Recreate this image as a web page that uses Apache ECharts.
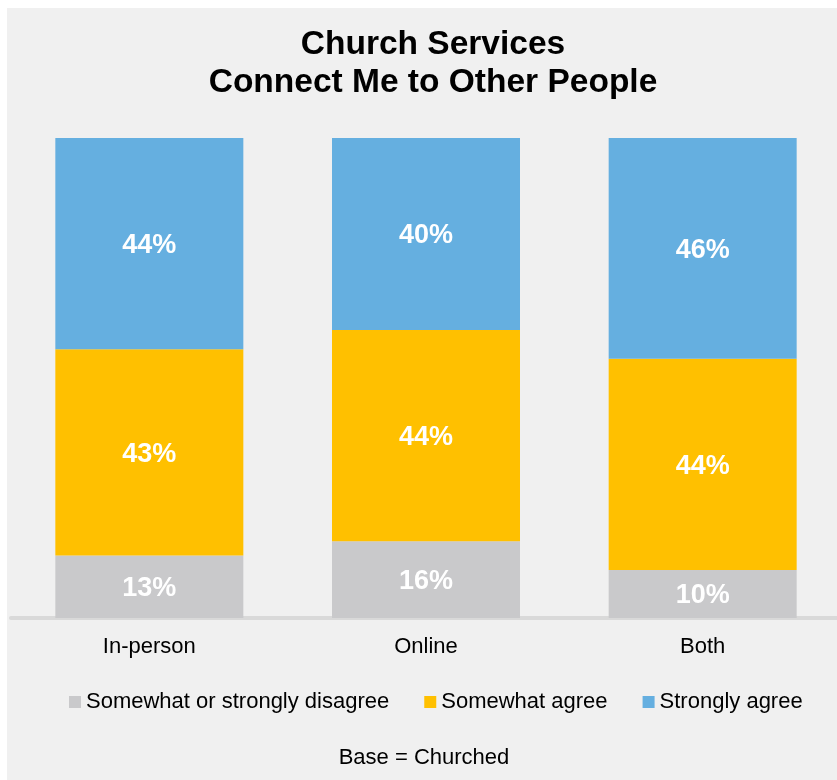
<!DOCTYPE html>
<html>
<head>
<meta charset="utf-8">
<script src="https://cdn.jsdelivr.net/npm/echarts@6/dist/echarts.min.js"></script>
<style>
  html, body { margin: 0; padding: 0; width: 837px; height: 780px; overflow: hidden; background: #ffffff; }
  #chart { position: absolute; left: 7px; top: 8px; width: 834px; height: 772px; background: #f0f0f0; }
</style>
</head>
<body>
<div id="chart"></div>
<script>
  // Attendance modes along the x axis
  const categories = ['In-person', 'Online', 'Both'];

  // Share of respondents (%) per response, bottom to top of each stack
  const disagree = [13, 16, 10];
  const somewhatAgree = [43, 44, 44];
  const stronglyAgree = [44, 40, 46];

  const seriesNames = ['Somewhat or strongly disagree', 'Somewhat agree', 'Strongly agree'];
  const seriesColors = ['#c9c9cb', '#ffc000', '#65afe0'];
  const seriesData = [disagree, somewhatAgree, stronglyAgree];

  const FONT = 'Liberation Sans, Arial, Helvetica, sans-serif';

  const chart = echarts.init(document.getElementById('chart'), null, { renderer: 'canvas' });

  chart.setOption({
    backgroundColor: '#f0f0f0',
    animation: false,
    title: {
      text: 'Church Services\nConnect Me to Other People',
      left: 421,
      top: 13,
      textAlign: 'center',
      textStyle: {
        fontFamily: FONT,
        fontSize: 33.5,
        fontWeight: 'bold',
        color: '#000000',
        lineHeight: 38
      }
    },
    legend: {
      left: 57,
      top: 678,
      itemWidth: 12,
      itemHeight: 12,
      itemGap: 35,
      icon: 'rect',
      data: seriesNames,
      textStyle: { fontFamily: FONT, fontSize: 22, color: '#000000', padding: [0, 0, 0, 0] }
    },
    grid: { left: 4, right: 0, top: 130, bottom: 162 },
    xAxis: {
      type: 'category',
      data: categories,
      axisLine: { show: true, lineStyle: { color: '#d9d9d9', width: 4 } },
      axisTick: { show: false },
      axisLabel: { margin: 18, fontFamily: FONT, fontSize: 22, color: '#000000' }
    },
    yAxis: {
      type: 'value',
      min: 0,
      max: 100,
      show: false,
      splitLine: { show: false }
    },
    series: seriesData.map((values, i) => ({
      name: seriesNames[i],
      type: 'bar',
      stack: 'total',
      barWidth: 188,
      data: values,
      itemStyle: { color: seriesColors[i] },
      label: {
        show: true,
        position: 'inside',
        offset: [0, 2],
        formatter: '{c}%',
        fontFamily: FONT,
        fontSize: 27,
        fontWeight: 'bold',
        color: '#ffffff'
      }
    })),
    graphic: [{
      type: 'text',
      left: 'center',
      top: 739,
      style: {
        text: 'Base = Churched',
        fontFamily: FONT,
        fontSize: 22,
        fill: '#000000'
      }
    }]
  });
</script>
</body>
</html>
